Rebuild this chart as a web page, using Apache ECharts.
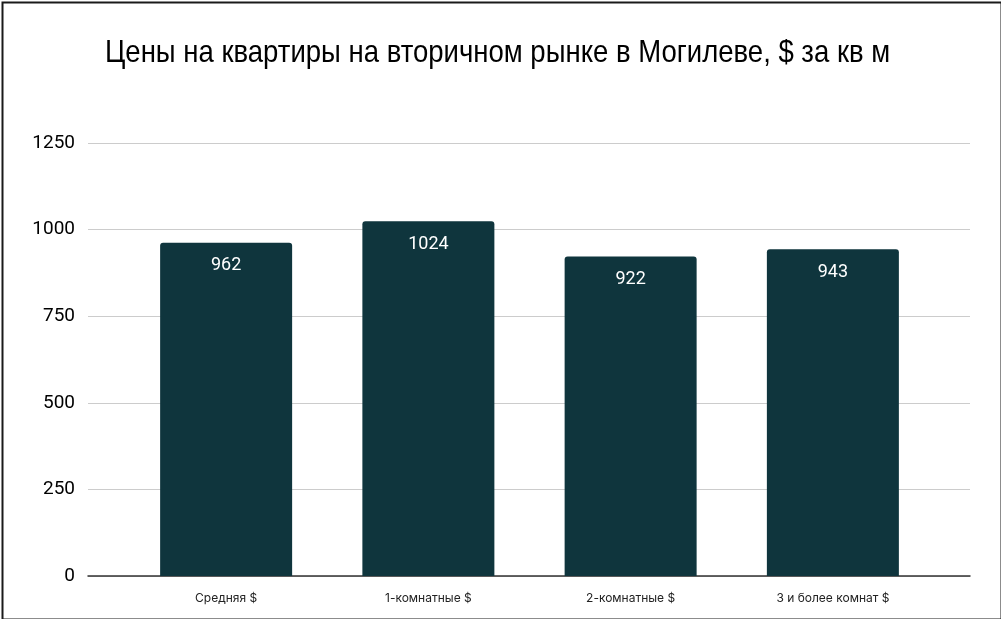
<!DOCTYPE html>
<html>
<head>
<meta charset="utf-8">
<script src="https://cdn.jsdelivr.net/npm/echarts@6/dist/echarts.min.js"></script>
<style>
  html, body { margin: 0; padding: 0; background: #fff; }
  #chart { width: 1001px; height: 619px; }
</style>
</head>
<body>
<div id="chart"></div>
<script>
// Chart data
const chartTitle = 'Цены на квартиры на вторичном рынке в Могилеве, $ за кв м';
const categories = ['Средняя $', '1-комнатные $', '2-комнатные $', '3 и более комнат $'];
const prices = [962, 1024, 922, 943];
const yTicks = [0, 250, 500, 750, 1000, 1250];

document.addEventListener('DOMContentLoaded', function() {
    const myChart = echarts.init(document.getElementById('chart'));

    const yMin = yTicks[0];
    const yMax = yTicks[yTicks.length - 1];
    const yStep = yTicks[1] - yTicks[0];

    const option = {
        animation: false,
        backgroundColor: '#ffffff',
        graphic: [{
            type: 'rect',
            left: 0,
            top: 0,
            shape: { x: 1, y: 1, width: 999, height: 617 },
            style: { fill: 'none', stroke: '#1a1a1a', lineWidth: 2 },
            silent: true
        }, {
            // title drawn as text squeezed horizontally (no narrow font available)
            type: 'text',
            x: 105,
            y: 37,
            scaleX: 0.86,
            style: {
                text: chartTitle,
                font: '32px "Liberation Sans", Arial, sans-serif',
                fill: '#000000'
            },
            silent: true
        }],
        grid: [
            // wide grid for gridlines and y labels
            { left: 88, right: 31, top: 143, bottom: 43 },
            // narrower grid for the bars
            { left: 125, right: 67, top: 143, bottom: 43 }
        ],
        xAxis: [{
            gridIndex: 0,
            type: 'value',
            min: 0,
            max: 1,
            axisLine: { show: true, onZero: false, lineStyle: { color: '#333333', width: 1.5 } },
            axisTick: { show: false },
            axisLabel: { show: false },
            splitLine: { show: false }
        }, {
            gridIndex: 1,
            type: 'category',
            data: categories,
            axisLine: { show: false },
            axisTick: { show: false },
            axisLabel: {
                margin: 16,
                fontFamily: 'Inter, Roboto, sans-serif',
                fontSize: 12,
                color: '#222222'
            }
        }],
        yAxis: [{
            gridIndex: 0,
            type: 'value',
            min: yMin,
            max: yMax,
            interval: yStep,
            axisLine: { show: false },
            axisTick: { show: false },
            axisLabel: {
                margin: 13,
                fontFamily: 'Roboto, "Liberation Sans", sans-serif',
                fontSize: 19,
                color: '#000000',
                formatter: function(v) { return String(v); }
            },
            splitLine: { lineStyle: { color: '#cccccc', width: 1 } }
        }, {
            gridIndex: 1,
            type: 'value',
            min: yMin,
            max: yMax,
            interval: yStep,
            show: false,
            splitLine: { show: false }
        }],
        series: [{
            type: 'bar',
            xAxisIndex: 1,
            yAxisIndex: 1,
            data: prices,
            barWidth: 132,
            itemStyle: {
                color: '#0f353d',
                borderRadius: [3, 3, 0, 0]
            },
            label: {
                show: true,
                position: 'insideTop',
                distance: 14,
                fontFamily: 'Roboto, sans-serif',
                fontSize: 18,
                color: '#ffffff'
            }
        }]
    };

    myChart.setOption(option);
});
</script>
</body>
</html>
